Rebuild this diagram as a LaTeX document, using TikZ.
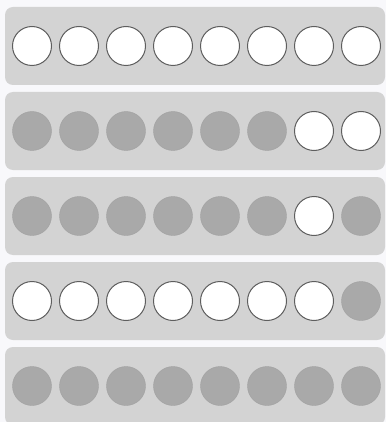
\documentclass[tikz,border=0pt]{standalone}
\usepackage{tikz}
\usepackage{xcolor}
\definecolor{boxgray}{HTML}{D3D3D3}
\definecolor{dotgray}{HTML}{A9A9A9}
\definecolor{rimgray}{HTML}{5E5E5E}
\definecolor{pagebg}{HTML}{F8F8FB}
\tikzset{
    rowbox/.style={fill=boxgray,rounded corners=8pt},
    celle/.style={circle,draw=rimgray,line width=1pt,fill=white,inner sep=0pt,minimum size=39pt},
    cellf/.style={circle,draw=dotgray!95!black,line width=0.4pt,fill=dotgray,inner sep=0pt,minimum size=39pt}
}

\begin{document}
\begin{tikzpicture}[x=1pt,y=-1pt]
    \fill[pagebg] (0,0) rectangle (386,422);
    \useasboundingbox (0,0) rectangle (386,422);
    \foreach \r/\pat in {0/{e,e,e,e,e,e,e,e},1/{f,f,f,f,f,f,e,e},2/{f,f,f,f,f,f,e,f},3/{e,e,e,e,e,e,e,f},4/{f,f,f,f,f,f,f,f}}{
        \fill[rowbox] (5,7+85*\r) rectangle (385,85+85*\r);
        \foreach \k [count=\i] in \pat {
            \node[cell\k] (c-\r-\i) at (32+47*\i-47,46+85*\r) {};
        }
    }
\end{tikzpicture}
\end{document}
